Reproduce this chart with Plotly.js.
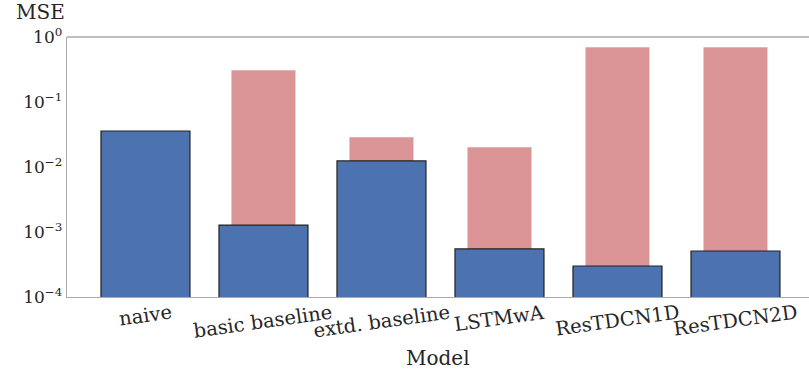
<!DOCTYPE html>
<html>
<head>
<meta charset="utf-8">
<script src="https://cdn.plot.ly/plotly-3.0.1.min.js"></script>
<style>html,body{margin:0;padding:0;background:#fff;}#chart{width:809px;height:371px;}</style>
</head>
<body>
<div id="chart"></div>
<script>
const categories = ['naive', 'basic baseline', 'extd. baseline', 'LSTMwA', 'ResTDCN1D', 'ResTDCN2D'];
const blueValues = [0.0358, 0.00128, 0.0124, 0.00055, 0.0003, 0.00051];
const redValues = [null, 0.31, 0.029, 0.0203, 0.70, 0.70];
const yTickVals = [1e-4, 1e-3, 1e-2, 1e-1, 1];
const yTickText = ['10<sup>\u22124</sup>', '10<sup>\u22123</sup>', '10<sup>\u22122</sup>', '10<sup>\u22121</sup>', '10<sup>0</sup>'];

const FONT = "'DejaVu Serif', 'Liberation Serif', serif";
const xIdx = categories.map((c, i) => i);

const traces = [
  {
    type: 'bar', x: xIdx, y: redValues, width: 0.547,
    marker: {color: 'rgba(196,78,82,0.6)', line: {color: 'rgba(255,255,255,0.5)', width: 1}},
    hoverinfo: 'skip', showlegend: false
  },
  {
    type: 'bar', x: xIdx, y: blueValues, width: 0.754,
    marker: {color: '#4C72B0', line: {color: '#222222', width: 1.2}},
    hoverinfo: 'skip', showlegend: false
  }
];

const annotations = categories.map((c, i) => ({
  text: c, x: i, xref: 'x', y: -0.006, yref: 'paper',
  xanchor: 'center', yanchor: 'top', textangle: -8, showarrow: false,
  font: {family: FONT, size: 19.5, color: '#262626'}
}));
annotations.push({
  text: 'MSE', xref: 'paper', yref: 'paper', x: -0.072, y: 1.095,
  xanchor: 'left', yanchor: 'middle', showarrow: false,
  font: {family: FONT, size: 20, color: '#262626'}
});
annotations.push({
  text: 'Model', xref: 'paper', yref: 'paper', x: 0.5, y: -0.235,
  xanchor: 'center', yanchor: 'middle', showarrow: false,
  font: {family: FONT, size: 20, color: '#262626'}
});

const layout = {
  width: 809, height: 371,
  margin: {l: 67, r: 0, t: 37, b: 74, pad: 0},
  paper_bgcolor: '#fff', plot_bgcolor: '#fff',
  barmode: 'overlay',
  showlegend: false,
  font: {family: FONT, color: '#262626'},
  xaxis: {
    range: [-0.665, 5.623], showticklabels: false, ticks: '',
    showgrid: false, zeroline: false,
    showline: true, linecolor: '#aaaaaa', linewidth: 1.3, mirror: false
  },
  yaxis: {
    type: 'log', range: [-4, 0], tickvals: yTickVals, ticktext: yTickText,
    ticks: '', showgrid: false, zeroline: false,
    showline: true, linecolor: '#aaaaaa', linewidth: 1.3,
    tickfont: {family: FONT, size: 17, color: '#262626'}
  },
  shapes: [{
    type: 'line', xref: 'paper', yref: 'paper', x0: 0, x1: 1, y0: 1, y1: 1,
    line: {color: '#aaaaaa', width: 1.3}
  }],
  annotations: annotations
};

Plotly.newPlot('chart', traces, layout, {staticPlot: true, displayModeBar: false});
</script>
</body>
</html>
